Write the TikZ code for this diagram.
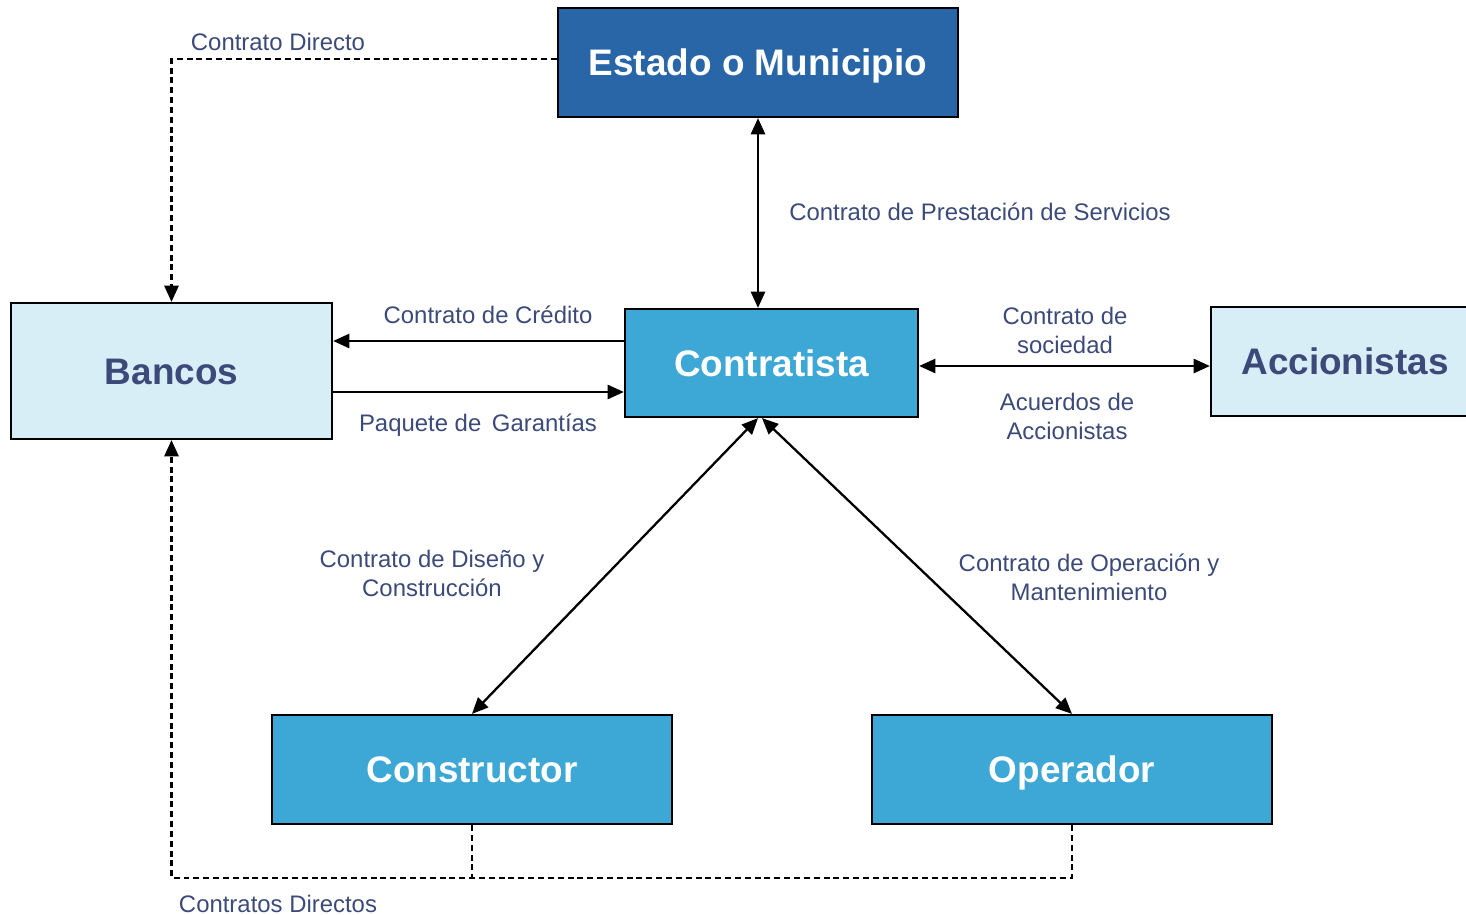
\documentclass[tikz,border=0pt]{standalone}
\usepackage{fontspec}
\setmainfont{Liberation Sans}
\usepackage{xcolor}
\usepackage{tikz}
\usetikzlibrary{positioning,calc,arrows.meta}
\definecolor{labelBlue}{RGB}{59,74,120}

\begin{document}
\begin{tikzpicture}[x=0.01cm, y=-0.01cm, >={Triangle[length=4.6pt,width=4pt]}]
	\definecolor{darkbox}{RGB}{40,102,168}
	\definecolor{midbox}{RGB}{61,168,214}
	\definecolor{lightbox}{RGB}{216,238,246}
	\tikzset{
		actor/.style={
			shape=rectangle,
			draw=black,
			line width=0.6pt,
			minimum width=4cm,
			minimum height=1.09cm,
			inner sep=0pt,
			text height=8.6pt,
			text depth=1pt,
			font=\fontsize{10.5}{12}\selectfont\bfseries
		},
		darkactor/.style={actor, fill=darkbox, text=white},
		midactor/.style={actor, fill=midbox, text=white},
		lightactor/.style={actor, fill=lightbox, text=labelBlue},
		lbl/.style={font=\fontsize{6.8}{8.25}\selectfont, text=labelBlue, align=center, inner sep=0pt},
		link/.style={line width=0.65pt, ->},
		dlink/.style={line width=0.65pt, <->},
		dashlink/.style={line width=0.65pt, dash pattern=on 1.7pt off 1.1pt}
	}
	\useasboundingbox (0,0) rectangle (1466,915);

	\node[darkactor] (estado) at (758,62.5) {Estado o Municipio};
	\node[lightactor, minimum width=3.21cm, minimum height=1.36cm] (bancos) at (171.5,371) {Bancos};
	\node[midactor, minimum width=2.93cm, minimum height=1.08cm] (contratista) at (771.5,363) {Contratista};
	\node[lightactor, minimum width=2.68cm] (accionistas) at (1345,361.5) {Accionistas};
	\node[midactor] (constructor) at (472,769.5) {Constructor};
	\node[midactor] (operador) at (1072,769.5) {Operador};

	\node[lbl] (lprest) at (980,212) {Contrato de Prestación de Servicios};
	\node[lbl] (lcred) at (488,315) {Contrato de Crédito};
	\node[lbl] (lgar) at (478,425) {Paquete de\, Garantías};
	\node[lbl] (lsoc) at (1065,330) {Contrato de\\sociedad};
	\node[lbl] (lacu) at (1067,416) {Acuerdos de\\Accionistas};
	\node[lbl] (ldis) at (432,573) {Contrato de Diseño y\\Construcción};
	\node[lbl] (lope) at (1089,577) {Contrato de Operación y\\Mantenimiento};
	\node[lbl] (ldir) at (278,42) {Contrato Directo};
	\node[lbl] (ldirs) at (278,904) {Contratos Directos};

	% enlaces con el contratista
	\coordinate (cred) at ($(contratista.west)+(0,-22)$);
	\coordinate (gar) at ($(contratista.west)+(0,29)$);
	\coordinate (soc) at ($(contratista.east)+(0,3)$);
	\coordinate (ope) at ($(contratista.south)+(-9.5,0)$);
	\draw[dlink] (estado.south) -- (estado.south |- contratista.north);
	\draw[link] (cred) -- (cred -| bancos.east);
	\draw[link] (gar -| bancos.east) -- (gar);
	\draw[dlink] (soc) -- (soc -| accionistas.west);
	\draw[dlink] (estado.south |- contratista.south) -- (constructor.north);
	\draw[dlink] (ope) -- (operador.north);

	% contratos directos
	\coordinate (dbase) at (172,878);
	\coordinate (dtop) at ($(estado.west)+(0,-3.5)$);
	\draw[dashlink, ->] (dtop) -| (bancos.north);
	\draw[dashlink] (constructor.south) -- (constructor.south |- dbase);
	\draw[dashlink, ->] (operador.south) |- (bancos.south |- dbase) -- (bancos.south);
\end{tikzpicture}
\end{document}
